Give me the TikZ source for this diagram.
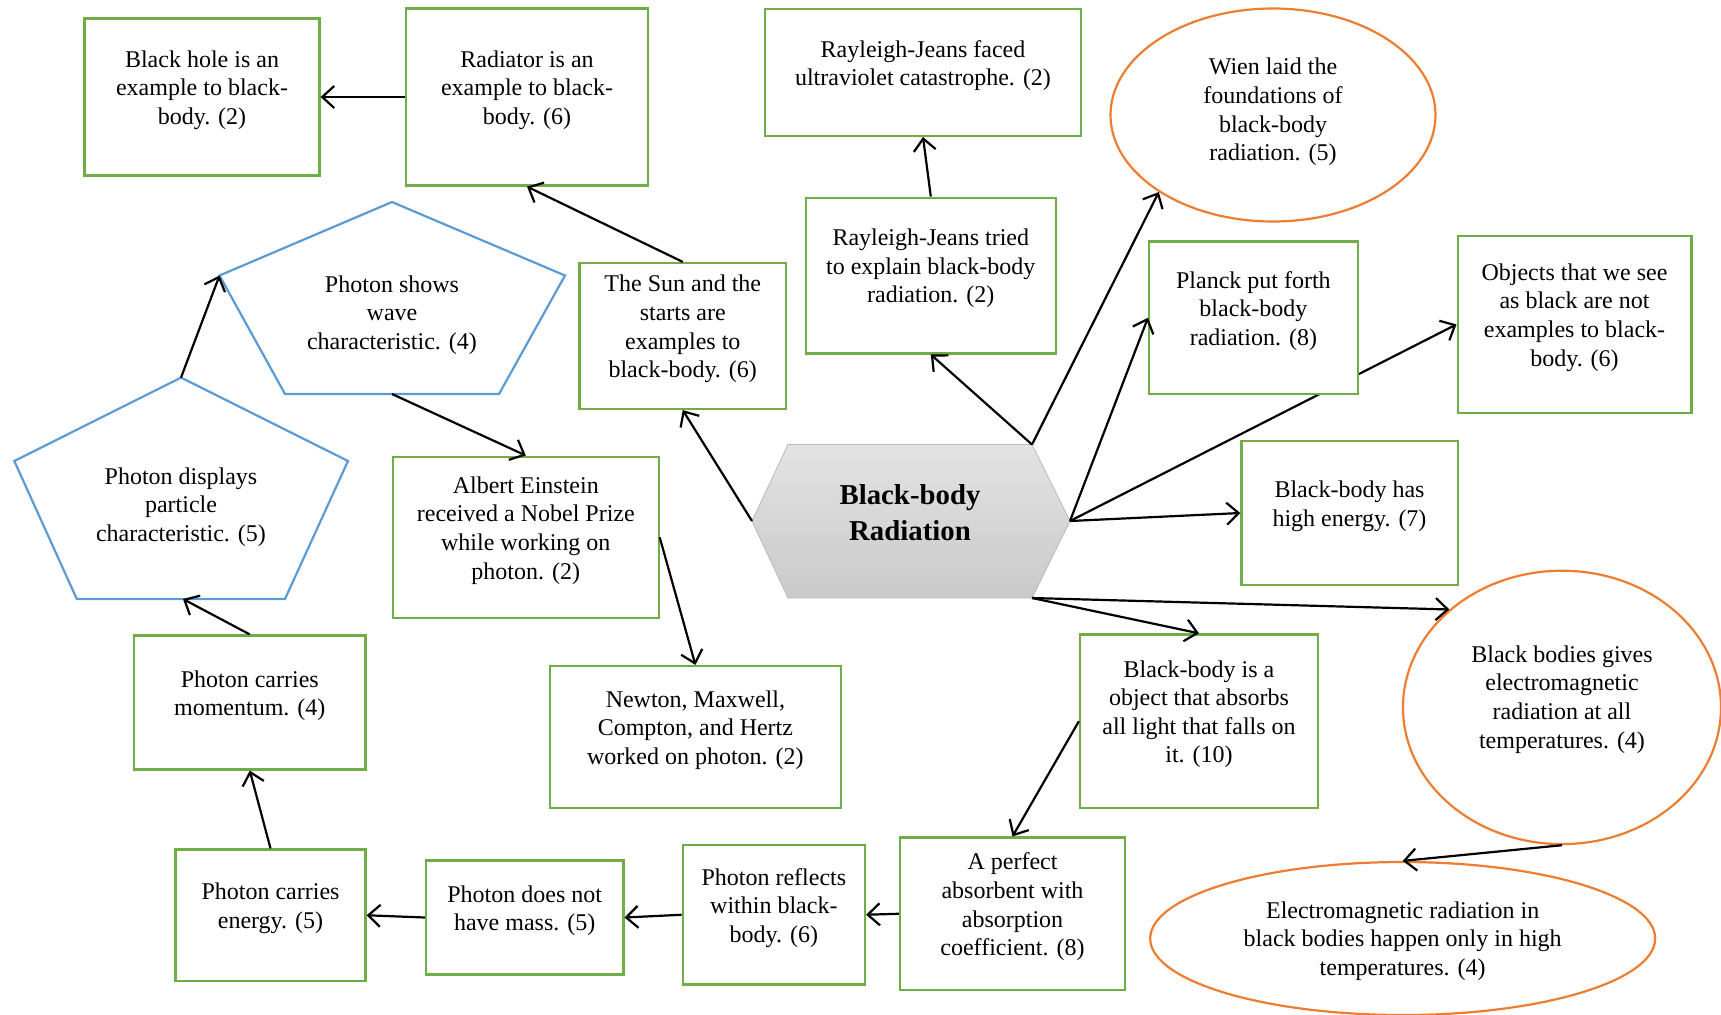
\documentclass[tikz,border=0pt]{standalone}
\usepackage{fontspec}
\setmainfont{Liberation Serif}
\usetikzlibrary{shapes.geometric,arrows.meta,backgrounds}
\definecolor{boxgreen}{HTML}{70AD47}
\definecolor{pentblue}{HTML}{5B9BD5}
\definecolor{ovalorange}{HTML}{ED7D31}
\begin{document}
\begin{tikzpicture}[x=0.5pt,y=-0.5pt,font=\fontsize{12}{14.3}\selectfont]
  \tikzset{ box/.style={draw=boxgreen,line width=1.1pt,fill=white,align=center,text depth=9.5pt,inner sep=2pt},
    oval/.style={ellipse,draw=ovalorange,line width=1.1pt,fill=white,align=center,inner sep=0pt},
    pent/.style={draw=pentblue,line width=1.1pt},
    ptext/.style={align=center},
    hexfill/.style={draw=gray!55,top color=gray!22,bottom color=gray!42},
    link/.style={-{Straight Barb[length=6pt,width=11pt]},line width=1.1pt},
  }
  \useasboundingbox (0,0) rectangle (1721,1014);

  % centre
  \shadedraw[hexfill] (752,521) coordinate (hex-w) -- (788,444.5) -- (1032,444.5) coordinate (hex-ne)
    -- (1070,521) coordinate (hex-e) -- (1032,598) coordinate (hex-se) -- (788,598) -- cycle;
  \node[font=\fontsize{14.4}{18}\selectfont\bfseries,align=center] (hex) at (910,513) {Black-body\\Radiation};

  % photon pentagons
  \draw[pent] (219.5,275.5) coordinate (wave-ul) -- (392,202) -- (565,275.5) -- (499,394) -- (285,394) -- cycle;
  \coordinate (wave-b) at (392,394);
  \node[ptext] (wave) at (392,315) {Photon shows\\wave\\characteristic. (4)};
  \draw[pent] (14.3,461) -- (181,377.6) coordinate (disp-top) -- (348,461) -- (285,599) -- (76.8,599) -- cycle;
  \coordinate (disp-b) at (183,599);
  \node[ptext] (disp) at (181,507) {Photon displays\\particle\\characteristic. (5)};

  \node[box,minimum width=117.5pt,minimum height=78.5pt] (hole) at (202,97) {Black hole is an\\example to black-\\body. (2)};
  \node[box,minimum width=121pt,minimum height=88.5pt] (radiator) at (527,97) {Radiator is an\\example to black-\\body. (6)};
  \node[box,minimum width=158pt,minimum height=63.5pt] (rjfaced) at (923,72.4) {Rayleigh-Jeans faced\\ultraviolet catastrophe. (2)};
  \node[oval,text depth=5.5pt,minimum width=162.5pt,minimum height=106.5pt] (wien) at (1273,115) {Wien laid the\\foundations of\\black-body\\radiation. (5)};
  \node[box,minimum width=103.25pt,minimum height=73pt] (sun) at (682.75,336) {The Sun and the\\starts are\\examples to\\black-body. (6)};
  \node[box,minimum width=125.2pt,minimum height=77.9pt] (rjtried) at (930.8,275.5) {Rayleigh-Jeans tried\\to explain black-body\\radiation. (2)};
  \node[box,minimum width=104.35pt,minimum height=76.25pt] (planck) at (1253.4,317.75) {Planck put forth\\black-body\\radiation. (8)};
  \node[box,minimum width=116.9pt,minimum height=88.35pt] (objects) at (1574.5,324.4) {Objects that we see\\as black are not\\examples to black-\\body. (6)};
  \node[box,minimum width=132.8pt,minimum height=80.7pt] (einstein) at (525.8,537.3) {Albert Einstein\\received a Nobel Prize\\while working on\\photon. (2)};
  \node[box,minimum width=108.1pt,minimum height=72pt] (highenergy) at (1349.5,513) {Black-body has\\high energy. (7)};
  \node[box,minimum width=115.75pt,minimum height=67pt] (momentum) at (249.75,702.5) {Photon carries\\momentum. (4)};
  \node[box,minimum width=145.4pt,minimum height=71pt] (newton) at (695.4,737) {Newton, Maxwell,\\Compton, and Hertz\\worked on photon. (2)};
  \node[box,minimum width=119pt,minimum height=86.8pt] (bbobject) at (1199,721.2) {Black-body is a\\object that absorbs\\all light that falls on\\it. (10)};
  \node[oval,text depth=10.5pt,minimum width=159pt,minimum height=136.7pt] (bbodies) at (1562,707.4) {Black bodies gives\\electromagnetic\\radiation at all\\temperatures. (4)};
  \node[oval,text depth=0pt,minimum width=252.5pt,minimum height=76.5pt] (em) at (1402.7,938.5) {Electromagnetic radiation in\\black bodies happen only in high\\temperatures. (4)};
  \node[box,minimum width=95pt,minimum height=65.75pt] (energy) at (270.5,915.25) {Photon carries\\energy. (5)};
  \node[box,minimum width=98.7pt,minimum height=57pt] (mass) at (524.7,917.5) {Photon does not\\have mass. (5)};
  \node[box,minimum width=91.15pt,minimum height=69.75pt] (reflects) at (773.85,914.75) {Photon reflects\\within black-\\body. (6)};
  \node[box,minimum width=112.5pt,minimum height=76.25pt] (absorbent) at (1012.5,913.75) {A perfect\\absorbent with\\absorption\\coefficient. (8)};

  % the connections
  \draw[link] (radiator.west) -- (hole.east);
  \draw[link] (sun.north) -- (radiator.south);
  \draw[link] (hex-w) -- (sun.south);
  \draw[link] (wave-b) -- (einstein.north);
  \draw[link] (disp-top) -- (wave-ul);
  \draw[link] (momentum.north) -- (disp-b);
  \draw[link] (energy.north) -- (momentum.south);
  \draw[link] (mass.west) -- (energy.east);
  \draw[link] (reflects.west) -- (mass.east);
  \draw[link] (absorbent.west) -- (reflects.east);
  \draw[link] (bbobject.west) -- (absorbent.north);
  \draw[link] (einstein.east) -- (newton.north);
  \draw[link] (hex-ne) -- (rjtried.south);
  \draw[link] (rjtried.north) -- (rjfaced.south);
  \draw[link] (hex-ne) -- (wien.214);
  \draw[link] (hex-e) -- (planck.west);
  \begin{scope}[on background layer]
    \draw[link] (hex-e) -- (objects.west);
  \end{scope}
  \draw[link] (hex-e) -- (highenergy.west);
  \draw[link] (hex-se) -- (bbobject.north);
  \draw[link] (hex-se) -- (bbodies.139);
  \draw[link] (bbodies.south) -- (em.north);
\end{tikzpicture}
\end{document}
